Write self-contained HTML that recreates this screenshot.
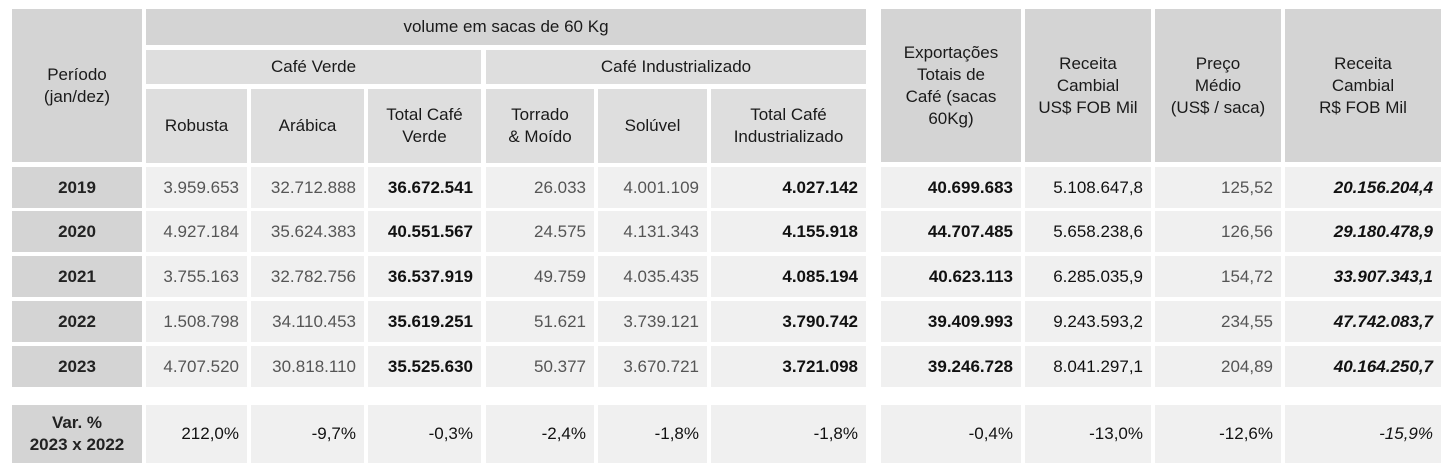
<!DOCTYPE html>
<html><head><meta charset="utf-8"><style>
body{margin:0;width:1453px;height:472px;background:#fff;position:relative;overflow:hidden;font-family:"Liberation Sans",sans-serif;}
.c{position:absolute;box-sizing:border-box;display:flex;align-items:center;font-size:17px;color:#222;}
.h{background:#d4d4d4;justify-content:center;text-align:center;line-height:22px;color:#1a1a1a;}
.s{background:#dedede;justify-content:center;text-align:center;line-height:22px;color:#1a1a1a;}
.p{background:#d4d4d4;justify-content:center;font-weight:bold;}
.d{background:#f0f0f0;justify-content:flex-end;padding-right:8px;color:#555;}
.b{color:#111;font-weight:bold;}
.k{color:#111;}
.i{color:#111;font-weight:bold;font-style:italic;}
.vi{color:#111;font-style:italic;}
</style></head><body>
<div class="c h" style="left:12px;top:9px;width:130px;height:153px">Período<br>(jan/dez)</div>
<div class="c h" style="left:146px;top:9px;width:720px;height:36px">volume em sacas de 60 Kg</div>
<div class="c s" style="left:146px;top:50px;width:335px;height:34px">Café Verde</div>
<div class="c s" style="left:486px;top:50px;width:380px;height:34px">Café Industrializado</div>
<div class="c s" style="left:146px;top:89px;width:101px;height:74px">Robusta</div>
<div class="c s" style="left:251px;top:89px;width:113px;height:74px">Arábica</div>
<div class="c s" style="left:368px;top:89px;width:113px;height:74px">Total Café<br>Verde</div>
<div class="c s" style="left:486px;top:89px;width:108px;height:74px">Torrado<br>&amp; Moído</div>
<div class="c s" style="left:598px;top:89px;width:109px;height:74px">Solúvel</div>
<div class="c s" style="left:711px;top:89px;width:155px;height:74px">Total Café<br>Industrializado</div>
<div class="c h" style="left:881px;top:9px;width:140px;height:153px">Exportações<br>Totais de<br>Café (sacas<br>60Kg)</div>
<div class="c h" style="left:1025px;top:9px;width:126px;height:153px">Receita<br>Cambial<br>US$ FOB Mil</div>
<div class="c h" style="left:1155px;top:9px;width:126px;height:153px">Preço<br>Médio<br>(US$ / saca)</div>
<div class="c h" style="left:1285px;top:9px;width:156px;height:153px">Receita<br>Cambial<br>R$ FOB Mil</div>
<div id="rows"></div>
<script>
const cols=[[146,101,'d'],[251,113,'d'],[368,113,'b'],[486,108,'d'],[598,109,'d'],[711,155,'b'],[881,140,'b'],[1025,126,'k'],[1155,126,'d'],[1285,156,'i']];
const varCls=['k','k','k','k','k','k','k','k','k','vi'];
const rows=[
['2019',167,41,['3.959.653','32.712.888','36.672.541','26.033','4.001.109','4.027.142','40.699.683','5.108.647,8','125,52','20.156.204,4']],
['2020',211,41,['4.927.184','35.624.383','40.551.567','24.575','4.131.343','4.155.918','44.707.485','5.658.238,6','126,56','29.180.478,9']],
['2021',256,41,['3.755.163','32.782.756','36.537.919','49.759','4.035.435','4.085.194','40.623.113','6.285.035,9','154,72','33.907.343,1']],
['2022',301,41,['1.508.798','34.110.453','35.619.251','51.621','3.739.121','3.790.742','39.409.993','9.243.593,2','234,55','47.742.083,7']],
['2023',346,41,['4.707.520','30.818.110','35.525.630','50.377','3.670.721','3.721.098','39.246.728','8.041.297,1','204,89','40.164.250,7']],
['Var. %<br>2023 x 2022',405,58,['212,0%','-9,7%','-0,3%','-2,4%','-1,8%','-1,8%','-0,4%','-13,0%','-12,6%','-15,9%']]
];
let html='';
rows.forEach((r,ri)=>{
 const isVar=ri===5;
 html+=`<div class="c p" style="left:12px;top:${r[1]}px;width:130px;height:${r[2]}px;text-align:center;line-height:22px;">${r[0]}</div>`;
 cols.forEach((c,ci)=>{
  const cls=isVar?varCls[ci]:c[2];
  html+=`<div class="c d ${cls}" style="left:${c[0]}px;top:${r[1]}px;width:${c[1]}px;height:${r[2]}px">${r[3][ci]}</div>`;
 });
});
document.getElementById('rows').innerHTML=html;
</script>
</body></html>
